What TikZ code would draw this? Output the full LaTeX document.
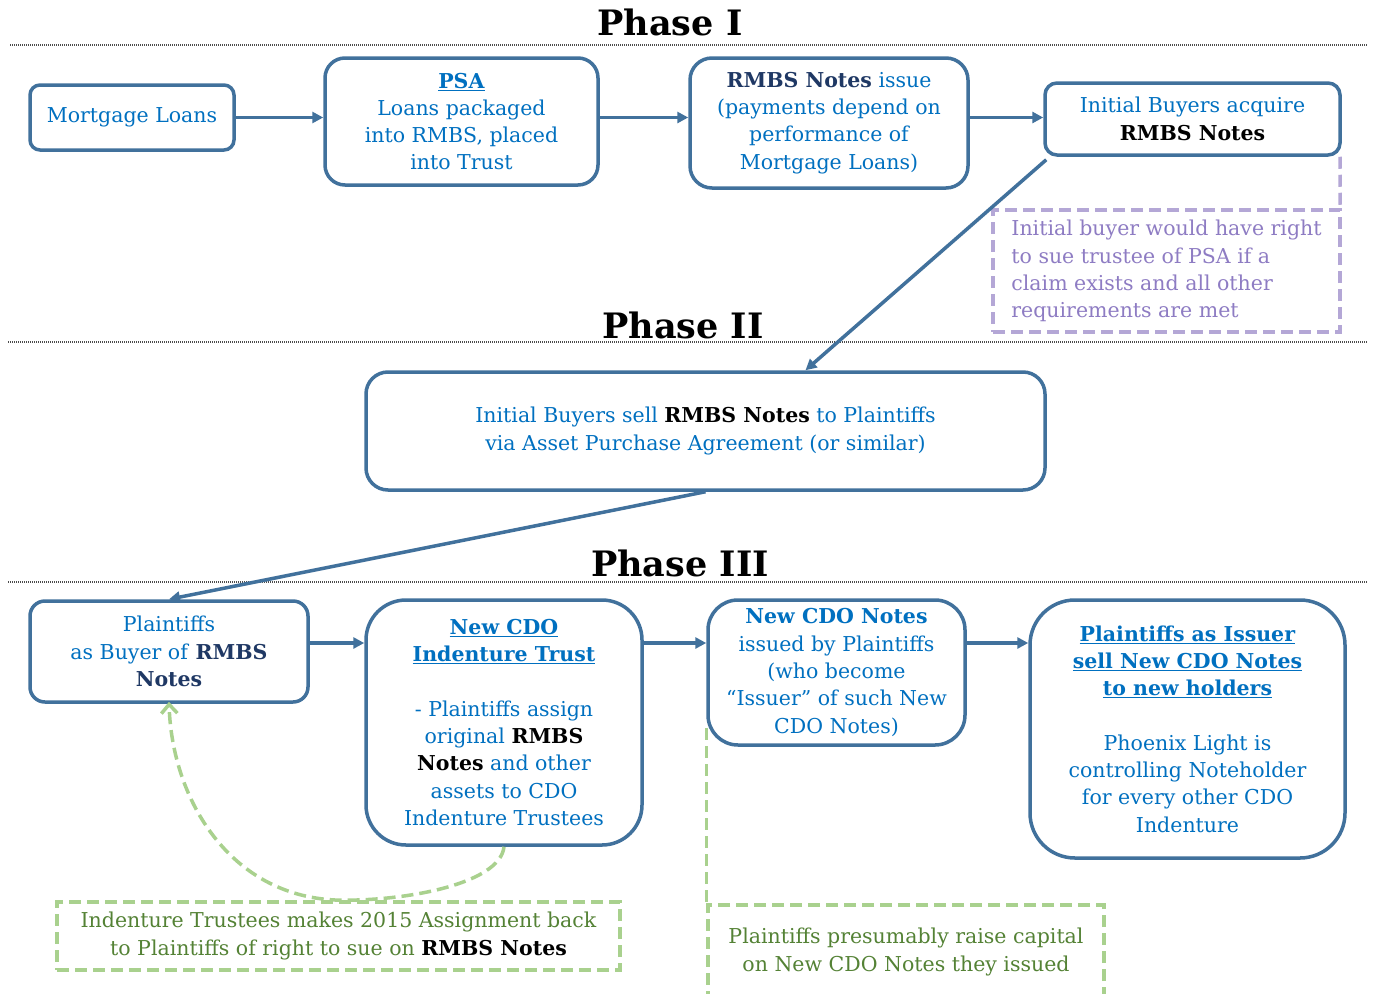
\documentclass[tikz,border=0pt]{standalone}
\usepackage{fontspec}
\setmainfont{DejaVu Serif}
\usetikzlibrary{arrows.meta}
\definecolor{boxc}{HTML}{41719C}
\definecolor{txtblue}{HTML}{0070C0}
\definecolor{navy}{HTML}{1F3864}
\definecolor{purpline}{HTML}{B4A7D6}
\definecolor{purptxt}{HTML}{8E7CC3}
\definecolor{grline}{HTML}{A9D18E}
\definecolor{grtxt}{HTML}{548235}
\newcommand{\fs}{\fontsize{20.5}{27.3}\selectfont}
\newcommand{\bk}[1]{\textbf{\color{black}#1}}
\newcommand{\bn}[1]{\textbf{\color{navy}#1}}
\newcommand{\ub}[1]{\underline{\textbf{#1}}}
\tikzset{
  box/.style={draw=boxc, line width=3.5pt, rounded corners=#1, align=center, text=txtblue, inner sep=2pt, font=\fs},
  arr/.style={draw=boxc, line width=3.5pt, -{Triangle[length=11pt,width=11pt]}},
  phasetitle/.style={font=\fontsize{35}{40}\selectfont\bfseries, text=black},
  sep/.style={draw=gray!60!black, line width=1.2pt, dash pattern=on 1pt off 1pt},
  pnote/.style={draw=purpline, line width=3.5pt, dash pattern=on 12pt off 6pt, text=purptxt, font=\fs, align=left, inner sep=2pt},
  gnote/.style={draw=grline, line width=3.5pt, dash pattern=on 12pt off 6pt, text=grtxt, font=\fs, align=center, inner sep=2pt},
  gdash/.style={draw=grline, line width=3.5pt, dash pattern=on 12pt off 6pt},
  pdash/.style={draw=purpline, line width=3.5pt, dash pattern=on 12pt off 6pt}
}
\begin{document}
\begin{tikzpicture}[x=1pt,y=-1pt]
\useasboundingbox (0,0) rectangle (1373,993);
\clip (0,0) rectangle (1373,993);
\fill[white] (0,0) rectangle (1373,993);
% phase titles and separators
\node[phasetitle] (t1) at (670,22) {Phase I};
\node[phasetitle] (t2) at (683,325) {Phase II};
\node[phasetitle] (t3) at (680,563) {Phase III};
\draw[sep] (10,45) -- (1368,45);
\draw[sep] (8,342) -- (1368,342);
\draw[sep] (8,582) -- (1368,582);
% Phase I boxes
\node[box=10pt, minimum width=204, minimum height=65] (ml) at (132,117.5) {Mortgage Loans};
\node[box=20pt, minimum width=273, minimum height=127] (psa) at (461.5,121.5) {\ub{PSA}\\Loans packaged\\into RMBS, placed\\into Trust};
\node[box=22pt, minimum width=278, minimum height=130] (rmbs) at (829,123) {\bn{RMBS Notes} issue\\(payments depend on\\performance of\\Mortgage Loans)};
\node[box=12pt, minimum width=295, minimum height=72] (ib) at (1192.5,119) {Initial Buyers acquire\\\bk{RMBS Notes}};
\node[pnote, minimum width=347, minimum height=122] (pn) at (1166.5,271) {Initial buyer would have right\\to sue trustee of PSA if a\\claim exists and all other\\requirements are met};
\coordinate (r1) at (0,117.5);
\draw[arr] (ml.east |- r1) -- (psa.west |- r1);
\draw[arr] (psa.east |- r1) -- (rmbs.west |- r1);
\draw[arr] (rmbs.east |- r1) -- (ib.west |- r1);
\draw[pdash] ([xshift=-1.75]ib.south east) -- ([xshift=-1.5]pn.north east);
% Phase II
\node[box=22pt, minimum width=679, minimum height=118] (p2) at (705.5,431) {Initial Buyers sell \bk{RMBS Notes} to Plaintiffs\\via Asset Purchase Agreement (or similar)};
\draw[arr] ([xshift=3,yshift=-3]ib.south west) -- ([xshift=100]p2.north);
% Phase III
\node[box=15pt, minimum width=278, minimum height=101] (pl) at (169,651.5) {Plaintiffs\\as Buyer of \bn{RMBS}\\\bn{Notes}};
\node[box=40pt, minimum width=276, minimum height=245] (trust) at (504,722.5) {\ub{New CDO}\\\ub{Indenture Trust}\\~\\- Plaintiffs assign\\original \bk{RMBS}\\\bk{Notes} and other\\assets to CDO\\Indenture Trustees};
\node[box=30pt, minimum width=257, minimum height=145] (cdon) at (836.5,672.5) {\textbf{New CDO Notes}\\issued by Plaintiffs\\(who become\\``Issuer'' of such New\\CDO Notes)};
\node[box=45pt, minimum width=315, minimum height=258] (iss) at (1187.5,729) {\ub{Plaintiffs as Issuer}\\\ub{sell New CDO Notes}\\\ub{to new holders}\\~\\Phoenix Light is\\controlling Noteholder\\for every other CDO\\Indenture};
\draw[arr] (p2.south) -- (pl.north);
\coordinate (r3) at (0,643);
\draw[arr] (pl.east |- r3) -- (trust.west |- r3);
\draw[arr] (trust.east |- r3) -- (cdon.west |- r3);
\draw[arr] (cdon.east |- r3) -- (iss.west |- r3);
% green notes
\node[gnote, minimum width=563, minimum height=68] (gn1) at (338.5,936) {Indenture Trustees makes 2015 Assignment back\\to Plaintiffs of right to sue on \bk{RMBS Notes}};
\node[gnote, minimum width=396, minimum height=94] (gn2) at (906,952) {Plaintiffs presumably raise capital\\on New CDO Notes they issued};
\draw[gdash, -{Straight Barb[length=9pt,width=16pt]}] (trust.south) .. controls (500,885) and (400,902) .. (335,900) .. controls (230,895) and (172,800) .. ([yshift=2]pl.south);
\draw[gdash] (cdon.west |- 0,728) -- (gn2.north west);
\end{tikzpicture}
\end{document}
